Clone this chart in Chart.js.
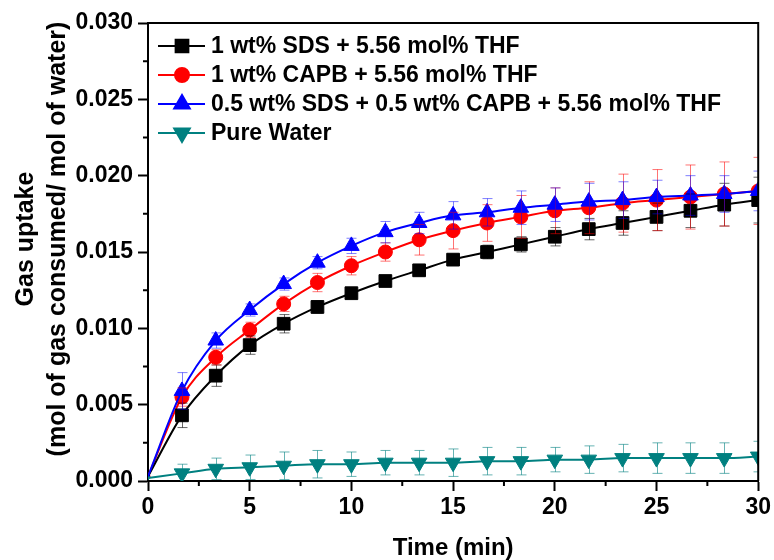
<!DOCTYPE html>
<html>
<head>
<meta charset="utf-8">
<script src="https://cdn.jsdelivr.net/npm/chart.js@4.4.0/dist/chart.umd.min.js"></script>
<style>
  html, body { margin: 0; padding: 0; background: #fff; }
  canvas { display: block; }
</style>
</head>
<body>
<canvas id="uptakeChart" width="774" height="560"></canvas>
<script>
// time axis (min)
const times = [0, 1.67, 3.33, 5, 6.67, 8.33, 10, 11.67, 13.33, 15, 16.67, 18.33, 20, 21.67, 23.33, 25, 26.67, 28.33, 30];

// gas uptake, mol of gas / mol of water
const sds = [0.0003, 0.0043, 0.0069, 0.0089, 0.0103, 0.0114, 0.0123, 0.0131, 0.0138, 0.0145, 0.0150, 0.0155, 0.0160, 0.0165, 0.0169, 0.0173, 0.0177, 0.0181, 0.0184];
const sdsErr = [0, 0.0008, 0.0007, 0.0006, 0.0006, 0.0004, 0.0003, 0.0002, 0.0002, 0.0002, 0.00045, 0.0005, 0.0006, 0.0007, 0.0008, 0.0009, 0.0011, 0.0014, 0.0015];

const capb = [0.0003, 0.0055, 0.0081, 0.0099, 0.0116, 0.0130, 0.0141, 0.0150, 0.0158, 0.0164, 0.0169, 0.0173, 0.0177, 0.0179, 0.0182, 0.0184, 0.0186, 0.0188, 0.0190];
const capbErr = [0, 0.0006, 0.0005, 0.0005, 0.0005, 0.0006, 0.0006, 0.0006, 0.0010, 0.0012, 0.0012, 0.0014, 0.0015, 0.0017, 0.0019, 0.0020, 0.0021, 0.0021, 0.0022];

const mix = [0.0003, 0.0059, 0.0092, 0.0112, 0.0129, 0.0143, 0.0154, 0.0163, 0.0169, 0.0174, 0.0176, 0.0179, 0.0181, 0.0183, 0.0184, 0.0186, 0.0187, 0.0188, 0.0190];
const mixErr = [0, 0.0012, 0.0005, 0.0004, 0.0004, 0.0004, 0.0005, 0.0007, 0.0007, 0.0009, 0.0009, 0.0011, 0.0011, 0.0012, 0.0012, 0.0011, 0.0013, 0.0012, 0.0013];

const water = [0.0002, 0.0005, 0.0008, 0.0009, 0.0010, 0.0011, 0.0011, 0.0012, 0.0012, 0.0012, 0.0013, 0.0013, 0.0014, 0.0014, 0.0015, 0.0015, 0.0015, 0.0015, 0.0016];
const waterErr = [0, 0.0006, 0.0007, 0.0008, 0.0009, 0.0009, 0.0008, 0.0008, 0.0008, 0.0009, 0.0009, 0.0009, 0.0008, 0.0009, 0.0009, 0.0010, 0.0010, 0.0010, 0.0010];

const seriesLabels = [
  "1 wt% SDS + 5.56 mol% THF",
  "1 wt% CAPB + 5.56 mol% THF",
  "0.5 wt% SDS + 0.5 wt% CAPB + 5.56 mol% THF",
  "Pure Water",
];

const yTitle = ["Gas uptake", "(mol of gas consumed/ mol of water)"];

const FONT = "'Liberation Sans', Arial, sans-serif";

function toPoints(values) {
  return times.map((t, i) => ({ x: t, y: values[i] }));
}

function makeSet(label, values, errs, color, errColor, style, radius, rotation, order) {
  return {
    label,
    data: toPoints(values),
    errors: errs,
    errColor,
    borderColor: color,
    backgroundColor: color,
    borderWidth: 2,
    pointStyle: style,
    pointRadius: (c) => (c.dataIndex === 0 ? 2 : radius),
    pointRotation: rotation,
    pointBorderWidth: 1,
    pointBorderColor: color,
    pointBackgroundColor: color,
    cubicInterpolationMode: "monotone",
    clip: 0,
    order,
    legendRadius: radius,
  };
}

// error bars, drawn over the markers like the original
const errorBars = {
  id: "errorBars",
  afterDatasetsDraw(chart) {
    const { ctx, chartArea, scales } = chart;
    const yScale = scales.y;
    ctx.save();
    ctx.beginPath();
    ctx.rect(chartArea.left, chartArea.top, chartArea.right - chartArea.left, chartArea.bottom - chartArea.top);
    ctx.clip();
    ctx.lineWidth = 1;
    chart.data.datasets.forEach((ds, di) => {
      const meta = chart.getDatasetMeta(di);
      ctx.strokeStyle = ds.errColor;
      meta.data.forEach((pt, i) => {
        const e = ds.errors[i];
        if (!e) return;
        const v = ds.data[i].y;
        const yt = yScale.getPixelForValue(v + e);
        const yb = yScale.getPixelForValue(v - e);
        const x = Math.round(pt.x) + 0.5;
        ctx.beginPath();
        ctx.moveTo(x, yt);
        ctx.lineTo(x, yb);
        ctx.moveTo(x - 5, yt);
        ctx.lineTo(x + 5, yt);
        ctx.moveTo(x - 5, yb);
        ctx.lineTo(x + 5, yb);
        ctx.stroke();
      });
    });
    ctx.restore();
  },
};

// frame, minor ticks, y title and legend
const frameAndLegend = {
  id: "frameAndLegend",
  afterDraw(chart) {
    const { ctx, chartArea } = chart;
    const xs = chart.scales.x;
    const ys = chart.scales.y;
    ctx.save();
    ctx.strokeStyle = "#000";
    ctx.lineWidth = 2;
    ctx.beginPath();
    ctx.moveTo(chartArea.left - 1, chartArea.top);
    ctx.lineTo(chartArea.right, chartArea.top);
    ctx.lineTo(chartArea.right, chartArea.bottom);
    ctx.stroke();

    // minor ticks
    ctx.beginPath();
    for (let v = 2.5; v < 30; v += 5) {
      const px = xs.getPixelForValue(v);
      ctx.moveTo(px, chartArea.bottom);
      ctx.lineTo(px, chartArea.bottom + 5);
    }
    for (let k = 0; k < 6; k++) {
      const py = ys.getPixelForValue(0.0025 + k * 0.005);
      ctx.moveTo(chartArea.left, py);
      ctx.lineTo(chartArea.left - 5, py);
    }
    ctx.stroke();

    // y axis title, two lines, sits a bit above the plot centre in the original
    ctx.save();
    ctx.fillStyle = "#000";
    ctx.font = "bold 25px " + FONT;
    ctx.textAlign = "center";
    ctx.textBaseline = "alphabetic";
    ctx.translate(33, 239);
    ctx.rotate(-Math.PI / 2);
    ctx.fillText(yTitle[0], 0, 0);
    ctx.fillText(yTitle[1], 0, 32);
    ctx.restore();

    // legend
    ctx.font = "bold 23px " + FONT;
    ctx.textBaseline = "middle";
    ctx.textAlign = "left";
    chart.data.datasets.forEach((ds, i) => {
      const y = 46 + i * 29;
      ctx.strokeStyle = ds.borderColor;
      ctx.lineWidth = 2;
      ctx.beginPath();
      ctx.moveTo(158, y);
      ctx.lineTo(205, y);
      ctx.stroke();
      ctx.fillStyle = ds.borderColor;
      Chart.helpers.drawPoint(ctx, {
        pointStyle: ds.pointStyle,
        rotation: ds.pointRotation,
        radius: ds.legendRadius,
        borderWidth: 1,
      }, 182, y);
      ctx.fillStyle = "#000";
      ctx.fillText(ds.label, 211, y + 1);
    });
    ctx.restore();
  },
};

function isMajor(v, step) {
  return Math.abs(Math.round(v / step) * step - v) < 1e-9;
}

const ctx = document.getElementById("uptakeChart").getContext("2d");
new Chart(ctx, {
  type: "line",
  data: {
    datasets: [
      makeSet(seriesLabels[0], sds, sdsErr, "#000000", "rgba(0,0,0,0.6)", "rect", 9, 0, 2),
      makeSet(seriesLabels[1], capb, capbErr, "#ff0000", "rgba(255,0,0,0.55)", "circle", 7, 0, 3),
      makeSet(seriesLabels[2], mix, mixErr, "#0000ff", "rgba(0,0,255,0.5)", "triangle", 9, 0, 1),
      makeSet(seriesLabels[3], water, waterErr, "#008080", "rgba(0,128,128,0.6)", "triangle", 9, 180, 0),
    ],
  },
  options: {
    responsive: false,
    animation: false,
    layout: { padding: { left: 0, top: 23, right: 12, bottom: 0 } },
    plugins: {
      legend: { display: false },
      tooltip: { enabled: false },
    },
    scales: {
      x: {
        type: "linear",
        min: 0,
        max: 30,
        afterFit: (s) => { s.height = 79; },
        border: { color: "#000", width: 2 },
        grid: {
          drawOnChartArea: false,
          tickLength: 10,
          tickWidth: 2,
          tickColor: (c) => (c.tick && isMajor(c.tick.value, 5) ? "#000" : "rgba(0,0,0,0)"),
        },
        ticks: {
          stepSize: 2.5,
          autoSkip: false,
          maxRotation: 0,
          padding: 3,
          color: "#000",
          font: { family: FONT, size: 23, weight: "bold" },
          callback: (v) => (isMajor(v, 5) ? String(v) : ""),
        },
        title: {
          display: true,
          text: "Time (min)",
          color: "#000",
          font: { family: FONT, size: 24, weight: "bold", lineHeight: 1.0 },
          padding: { top: 0, bottom: 0 },
        },
      },
      y: {
        min: 0,
        max: 0.03,
        afterFit: (s) => { s.width = 148; },
        border: { color: "#000", width: 2 },
        grid: {
          drawOnChartArea: false,
          tickLength: 10,
          tickWidth: 2,
          tickColor: (c) => (c.tick && isMajor(c.tick.value, 0.005) ? "#000" : "rgba(0,0,0,0)"),
        },
        ticks: {
          stepSize: 0.0025,
          autoSkip: false,
          padding: 5,
          color: "#000",
          font: { family: FONT, size: 23, weight: "bold" },
          callback: (v) => (isMajor(v, 0.005) ? v.toFixed(3) : ""),
        },
        title: { display: false },
      },
    },
  },
  plugins: [errorBars, frameAndLegend],
});
</script>
</body>
</html>
